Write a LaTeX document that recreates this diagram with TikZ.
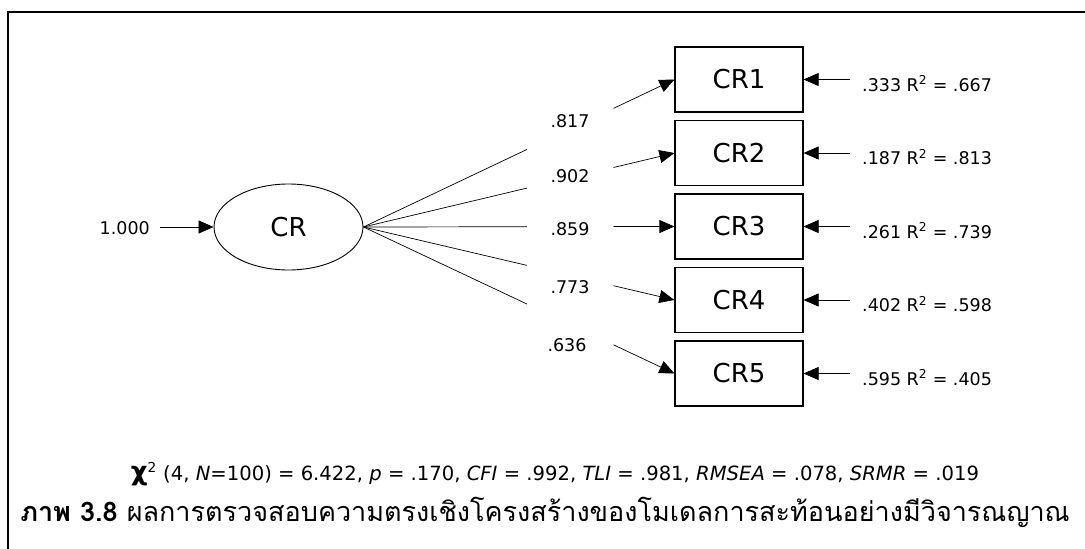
\documentclass[tikz,border=0pt]{standalone}
\usepackage{fontspec}
\setmainfont{DejaVu Sans}
\newfontfamily\thaifont[Script=Thai]{Loma}
\usetikzlibrary{arrows.meta,calc,shapes.geometric}
\begin{document}
\begin{tikzpicture}[x=1pt,y=-1pt,
  box/.style={draw, line width=1.2pt, minimum width=128pt, minimum height=65pt, inner sep=0pt, font=\fontsize{26}{30}\selectfont},
  latent/.style={ellipse, draw, line width=0.9pt, minimum width=149pt, minimum height=86pt, inner sep=0pt, font=\fontsize{26}{30}\selectfont},
  lbl/.style={font=\fontsize{17.5}{21}\selectfont, inner sep=0pt},
  arr/.style={-{Triangle[length=15pt,width=13pt]}, line width=0.7pt},
  ln/.style={line width=0.7pt}
]
\useasboundingbox (0,0) rectangle (1085,549);
\draw[line width=2pt] (1090,12) -- (8,12) -- (8,555);

\node[latent] (CR) at (288.5,227) {CR};
\node[lbl, anchor=east] (l0) at (150,228) {1.000};
\draw[arr] ($(l0.east |- CR.west)+(10,0)$) -- (CR.west);

\foreach \i/\ld/\lx/\ly/\e/\r in {1/.817/570/121/.333/.667, 2/.902/570/176/.187/.813, 3/.859/570/229/.261/.739, 4/.773/570/287/.402/.598, 5/.636/567/345/.595/.405}{
  \node[box] (CR\i) at (739,{79.5+73.5*(\i-1)}) {CR\i};
  \node[lbl] (L\i) at (\lx,\ly) {\ld};
  \draw[ln] (CR.east) -- ($(CR.east)!0.526!(CR\i.west)$);
  \draw[arr] ($(CR.east)!0.804!(CR\i.west)$) -- (CR\i.west);
  \node[lbl, anchor=west] (E\i) at (862,{83.5+73.5*(\i-1)}) {\e\ R\textsuperscript{2} = \r};
  \draw[arr] ($(E\i.west |- CR\i.east)+(-12,0)$) -- (CR\i.east);
}

\node[inner sep=0pt, font=\fontsize{19.6}{24}\selectfont] (fit) at (555,474)
  {{\fontsize{26}{26}\selectfont\bfseries χ}\textsuperscript{2} (4, \textit{N}=100) = 6.422, \textit{p} = .170, \textit{CFI} = .992, \textit{TLI} = .981, \textit{RMSEA} = .078, \textit{SRMR} = .019};
\node[inner sep=0pt, font=\fontsize{27}{32}\selectfont\thaifont] (cap) at (545,512)
  {{\bfseries ภาพ 3.8} ผลการตรวจสอบความตรงเชิงโครงสร้างของโมเดลการสะท้อนอย่างมีวิจารณญาณ};
\end{tikzpicture}
\end{document}
